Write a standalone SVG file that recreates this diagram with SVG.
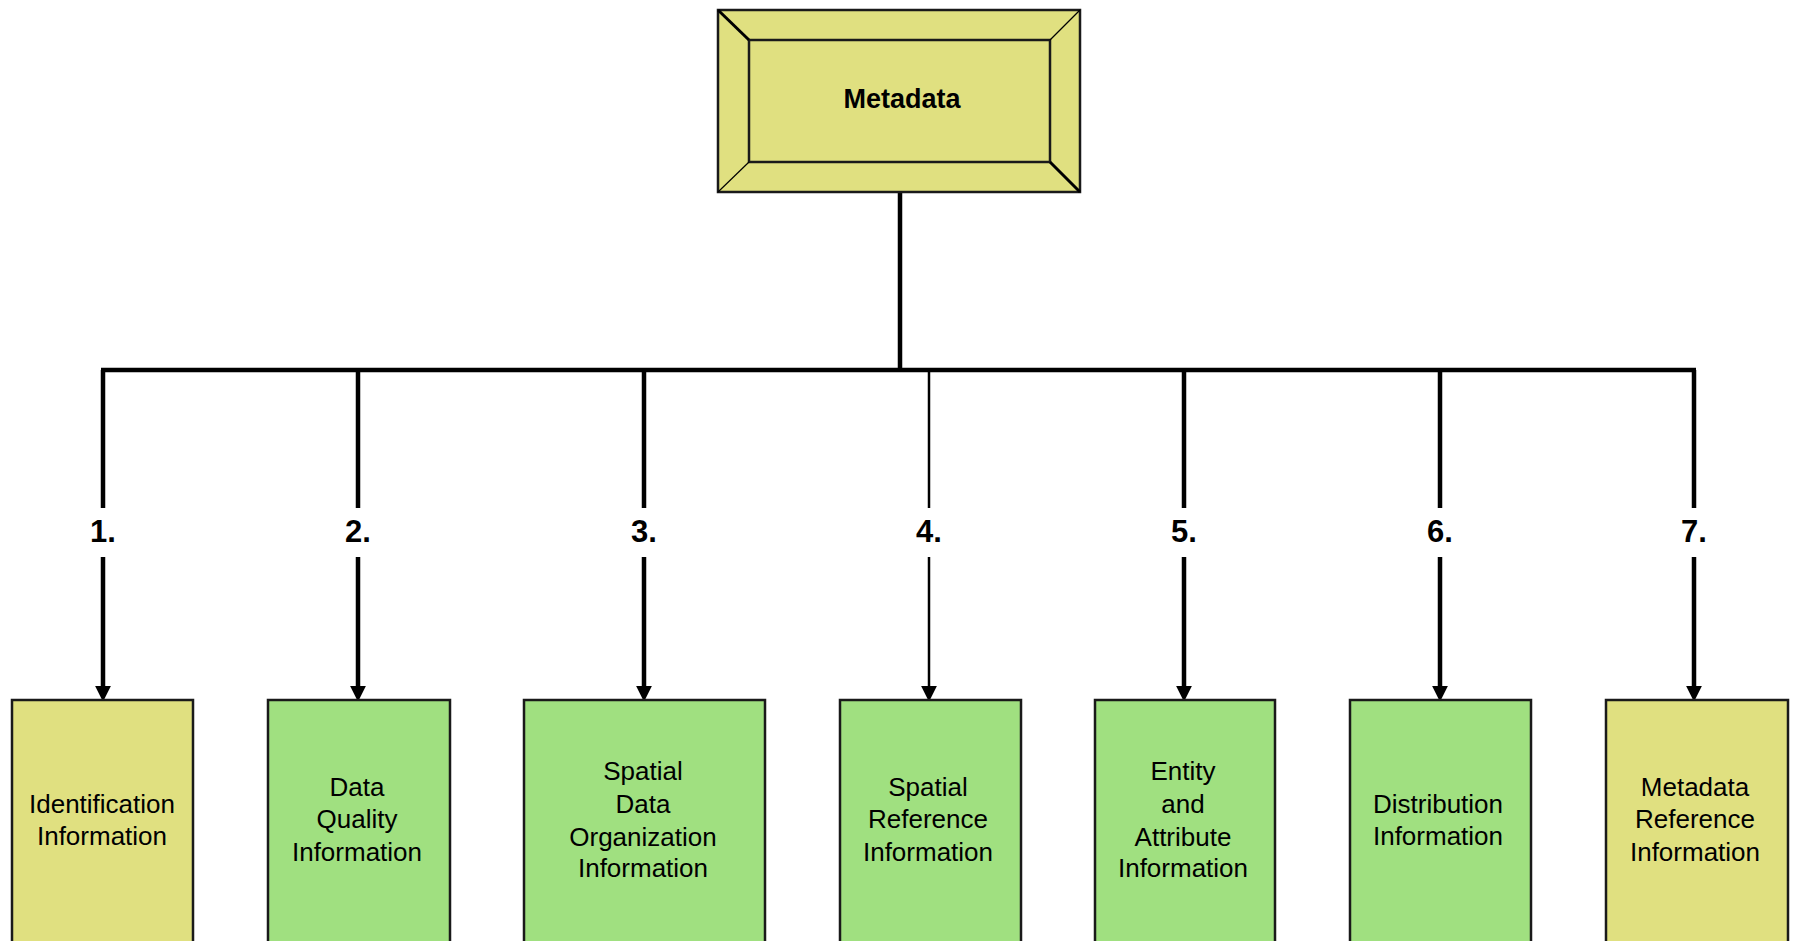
<svg xmlns="http://www.w3.org/2000/svg" width="1793" height="941" viewBox="0 0 1793 941">
<defs>
<style>
.yel{fill:#E0E080;stroke:#1a1a1a;stroke-width:2.5}
.grn{fill:#A0E080;stroke:#1a1a1a;stroke-width:2.5}
.lbl{font-family:"Liberation Sans",Arial,sans-serif;font-size:26px;fill:#000;text-anchor:middle}
.num{font-family:"Liberation Sans",Arial,sans-serif;font-size:31px;font-weight:bold;fill:#000;text-anchor:middle}
.title{font-family:"Liberation Sans",Arial,sans-serif;font-size:27px;font-weight:bold;fill:#000;text-anchor:middle}
.ln{fill:none;stroke:#000;stroke-width:4.5}
.thin{fill:none;stroke:#000;stroke-width:2.5}
.bev{stroke:#000;fill:none}
</style>
<marker id="arr" markerUnits="userSpaceOnUse" markerWidth="16" markerHeight="16" refX="2" refY="7" orient="auto" viewBox="0 0 14 14">
<path d="M0,0 L14,7 L0,14 Z" fill="#000"/>
</marker>
</defs>
<rect width="1793" height="941" fill="#fff"/>

<g id="connectors">
<path class="ln" d="M900,192 V370"/>
<path class="ln" d="M101,370 H1696"/>
<path class="ln" d="M103,370 V508"/>
<path class="ln" d="M358,370 V508"/>
<path class="ln" d="M644,370 V508"/>
<path class="thin" d="M929,370 V508"/>
<path class="ln" d="M1184,370 V508"/>
<path class="ln" d="M1440,370 V508"/>
<path class="ln" d="M1694,370 V508"/>
<path class="ln" d="M103,557 V688" marker-end="url(#arr)"/>
<path class="ln" d="M358,557 V688" marker-end="url(#arr)"/>
<path class="ln" d="M644,557 V688" marker-end="url(#arr)"/>
<path class="thin" d="M929,557 V688" marker-end="url(#arr)"/>
<path class="ln" d="M1184,557 V688" marker-end="url(#arr)"/>
<path class="ln" d="M1440,557 V688" marker-end="url(#arr)"/>
<path class="ln" d="M1694,557 V688" marker-end="url(#arr)"/>
<text class="num" x="103" y="542">1.</text>
<text class="num" x="358" y="542">2.</text>
<text class="num" x="644" y="542">3.</text>
<text class="num" x="929" y="542">4.</text>
<text class="num" x="1184" y="542">5.</text>
<text class="num" x="1440" y="542">6.</text>
<text class="num" x="1694" y="542">7.</text>
</g>

<g id="metadata">
<rect class="yel" x="718" y="10" width="362" height="182"/>
<rect class="yel" x="749" y="40" width="301" height="122"/>
<line class="bev" x1="718" y1="10" x2="749" y2="40" stroke-width="3"/>
<line class="bev" x1="1080" y1="10" x2="1050" y2="40" stroke-width="1.2"/>
<line class="bev" x1="718" y1="192" x2="749" y2="162" stroke-width="1.2"/>
<line class="bev" x1="1080" y1="192" x2="1050" y2="162" stroke-width="3"/>
<text class="title" x="902" y="108">Metadata</text>
</g>

<g id="n1">
<rect class="yel" x="12" y="700" width="181" height="260"/>
<text class="lbl" x="102" y="813">Identification</text>
<text class="lbl" x="102" y="845">Information</text>
</g>
<g id="n2">
<rect class="grn" x="268" y="700" width="182" height="260"/>
<text class="lbl" x="357" y="796">Data</text>
<text class="lbl" x="357" y="828">Quality</text>
<text class="lbl" x="357" y="861">Information</text>
</g>
<g id="n3">
<rect class="grn" x="524" y="700" width="241" height="260"/>
<text class="lbl" x="643" y="780">Spatial</text>
<text class="lbl" x="643" y="813">Data</text>
<text class="lbl" x="643" y="846">Organization</text>
<text class="lbl" x="643" y="877">Information</text>
</g>
<g id="n4">
<rect class="grn" x="840" y="700" width="181" height="260"/>
<text class="lbl" x="928" y="796">Spatial</text>
<text class="lbl" x="928" y="828">Reference</text>
<text class="lbl" x="928" y="861">Information</text>
</g>
<g id="n5">
<rect class="grn" x="1095" y="700" width="180" height="260"/>
<text class="lbl" x="1183" y="780">Entity</text>
<text class="lbl" x="1183" y="813">and</text>
<text class="lbl" x="1183" y="846">Attribute</text>
<text class="lbl" x="1183" y="877">Information</text>
</g>
<g id="n6">
<rect class="grn" x="1350" y="700" width="181" height="260"/>
<text class="lbl" x="1438" y="813">Distribution</text>
<text class="lbl" x="1438" y="845">Information</text>
</g>
<g id="n7">
<rect class="yel" x="1606" y="700" width="182" height="260"/>
<text class="lbl" x="1695" y="796">Metadata</text>
<text class="lbl" x="1695" y="828">Reference</text>
<text class="lbl" x="1695" y="861">Information</text>
</g>
</svg>
